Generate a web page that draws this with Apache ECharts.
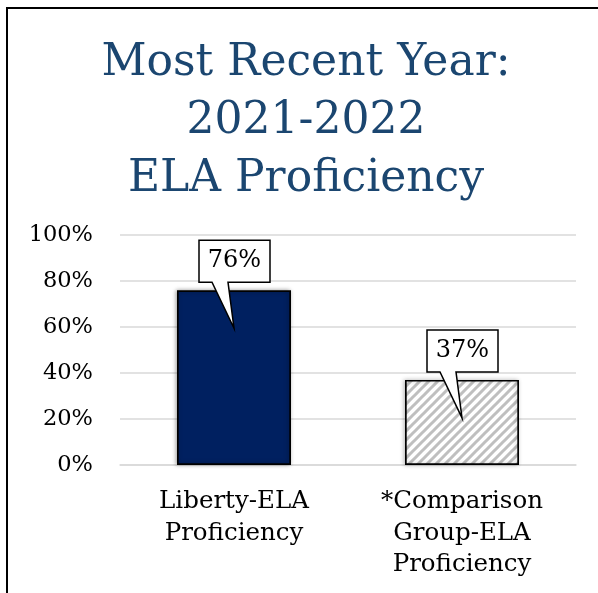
<!DOCTYPE html>
<html>
<head>
<meta charset="utf-8">
<script src="https://cdn.jsdelivr.net/npm/echarts@6/dist/echarts.min.js"></script>
<style>
html,body{margin:0;padding:0;background:#fff;}
#chart{width:598px;height:593px;}
</style>
</head>
<body>
<div id="chart"></div>
<script>
const titleLines = ['Most Recent Year:', '2021-2022', 'ELA Proficiency'];
const categories = ['Liberty-ELA\nProficiency', '*Comparison\nGroup-ELA\nProficiency'];
const values = [76, 37];
const yMin = 0, yMax = 100, yInterval = 20;

const SERIF = '"DejaVu Serif", serif';

// hatch pattern for the comparison bar
function makeHatch() {
  const s = 9;
  const c = document.createElement('canvas');
  c.width = s; c.height = s;
  const g = c.getContext('2d');
  g.fillStyle = '#ffffff';
  g.fillRect(0, 0, s, s);
  g.strokeStyle = '#bfbfbf';
  g.lineWidth = 3;
  g.beginPath();
  g.moveTo(-s, s); g.lineTo(s, -s);
  g.moveTo(0, s * 2); g.lineTo(s * 2, 0);
  g.moveTo(-s, 2 * s); g.lineTo(2 * s, -s);
  g.stroke();
  return c;
}

const chart = echarts.init(document.getElementById('chart'), null, {renderer: 'canvas'});

const barStyles = [
  {color: '#002060', borderColor: '#000', borderWidth: 1.7, shadowBlur: 4, shadowColor: 'rgba(0,0,0,0.35)', shadowOffsetX: -1},
  {color: {image: makeHatch(), repeat: 'repeat'}, borderColor: '#000', borderWidth: 1.7, shadowBlur: 4, shadowColor: 'rgba(0,0,0,0.25)', shadowOffsetX: -1}
];

function renderCallout(params, api) {
  const p = api.coord([api.value(0), api.value(1)]);
  const cx = p[0], ty = p[1];
  const pts = [
    [cx - 35, ty - 50], [cx + 36, ty - 50], [cx + 36, ty - 8],
    [cx - 6, ty - 8], [cx, ty + 38], [cx - 22, ty - 8], [cx - 35, ty - 8]
  ];
  return {
    type: 'group',
    children: [
      {type: 'polygon', shape: {points: pts}, style: {fill: '#fff', stroke: '#000', lineWidth: 1.5}},
      {type: 'text', style: {text: api.value(1) + '%', x: cx + 0.5, y: ty - 29, align: 'center', verticalAlign: 'middle', font: '24px ' + SERIF, fill: '#000'}}
    ]
  };
}

chart.setOption({
  animation: false,
  backgroundColor: '#fff',
  title: {
    text: titleLines.join('\n'),
    left: 306, top: 35, padding: 0,
    textAlign: 'center',
    textStyle: {fontFamily: SERIF, fontSize: 44, fontWeight: 'normal', lineHeight: 58, color: '#1B4670'}
  },
  grid: {left: 120, right: 22, top: 235, bottom: 128},
  xAxis: {
    type: 'category',
    data: categories,
    axisLine: {show: true, lineStyle: {color: '#d9d9d9', width: 1.5}},
    axisTick: {show: false},
    axisLabel: {margin: 21, fontFamily: SERIF, fontSize: 24.5, lineHeight: 31.5, color: '#000', interval: 0, align: 'center'}
  },
  yAxis: {
    type: 'value',
    min: yMin, max: yMax, interval: yInterval,
    axisLine: {show: false},
    axisTick: {show: false},
    axisLabel: {margin: 27, fontFamily: SERIF, fontSize: 22.5, color: '#000', formatter: '{value}%'},
    splitLine: {lineStyle: {color: '#d9d9d9', width: 1.5}}
  },
  series: [
    {
      type: 'bar',
      barWidth: '50%',
      data: values.map((v, i) => ({value: v, itemStyle: barStyles[i]})),
      z: 2
    },
    {
      type: 'custom',
      renderItem: renderCallout,
      data: values.map((v, i) => [i, v]),
      encode: {x: 0, y: 1},
      clip: false,
      z: 10
    }
  ],
  graphic: [
    {type: 'line', shape: {x1: 6, y1: 8, x2: 598, y2: 8}, style: {stroke: '#000', lineWidth: 2}, z: 100},
    {type: 'line', shape: {x1: 7, y1: 7, x2: 7, y2: 593}, style: {stroke: '#000', lineWidth: 2}, z: 100}
  ]
});
</script>
</body>
</html>
